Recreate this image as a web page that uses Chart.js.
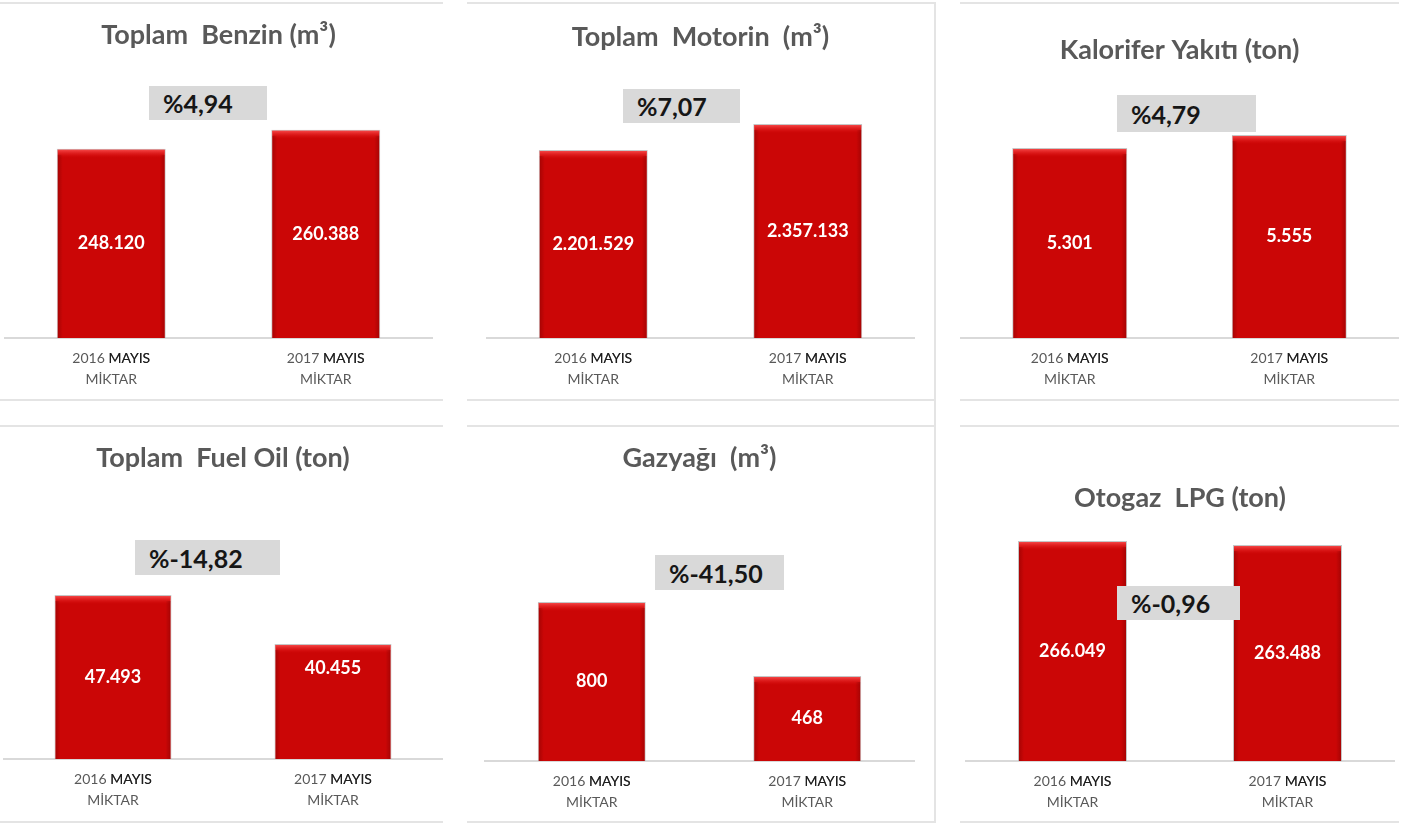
<!DOCTYPE html>
<html lang="tr">
<head>
<meta charset="utf-8">
<title>Mayıs 2016 - 2017 Akaryakıt Satışları</title>
<script src="https://cdn.jsdelivr.net/npm/chart.js@4.4.1/dist/chart.umd.min.js"></script>
<style>
  html, body { margin: 0; padding: 0; background: #fff; }
  #page { position: relative; width: 1419px; height: 829px; overflow: hidden; font-family: Lato, "Open Sans", sans-serif; }
  .panel { position: absolute; }
  .rule { position: absolute; background: #e4e4e4; }
  .change {
    position: absolute; background: #d9d9d9; color: #161616;
    font: bold 25px Lato, sans-serif; box-sizing: border-box; padding-left: 14px;
    display: flex; align-items: center;
  }
</style>
</head>
<body>
<div id="page"></div>
<script>
// data
const categories = [['2016 MAYIS', 'MİKTAR'], ['2017 MAYIS', 'MİKTAR']];
const titles = ['Toplam  Benzin (m³)', 'Toplam  Motorin  (m³)', 'Kalorifer Yakıtı (ton)',
                'Toplam  Fuel Oil (ton)', 'Gazyağı  (m³)', 'Otogaz  LPG (ton)'];
const benzin = [248120, 260388];
const motorin = [2201529, 2357133];
const kalorifer = [5301, 5555];
const fuelOil = [47493, 40455];
const gazyagi = [800, 468];
const otogaz = [266049, 263488];
const changes = ['%4,94', '%7,07', '%4,79', '%-14,82', '%-41,50', '%-0,96'];

const series = [benzin, motorin, kalorifer, fuelOil, gazyagi, otogaz];

// layout of each panel (page pixels) and axis ranges
const panels = [
  { left: 4,   width: 429, top: 5,   base: 338, titleY: 35,  areaTop: 118, yMin: 126000,  yMax: 268000,  bar: 0.508,
    box: [149, 86, 118, 34] },
  { left: 486, width: 429, top: 5,   base: 338, titleY: 37,  areaTop: 118, yMin: 1077000, yMax: 2393000, bar: 0.508,
    box: [623, 89, 117, 34] },
  { left: 960, width: 439, top: 5,   base: 338, titleY: 50,  areaTop: 118, yMin: 1589,    yMax: 5887,    bar: 0.524,
    box: [1117, 95, 139, 37] },
  { left: 3,   width: 440, top: 428, base: 759, titleY: 458, areaTop: 540, yMin: 23942,   yMax: 55390,   bar: 0.532,
    box: [135, 540, 145, 35], labelAt: ['center', 'top'] },
  { left: 484, width: 431, top: 428, base: 761, titleY: 458, areaTop: 540, yMin: 86.8,    yMax: 1078.1,  bar: 0.501,
    box: [655, 555, 129, 35] },
  { left: 965, width: 430, top: 428, base: 761, titleY: 498, areaTop: 540, yMin: 125194,  yMax: 266686,  bar: 0.507,
    box: [1117, 586, 123, 34] }
];

const page = document.getElementById('page');

// thin grey frame lines between the panels
const rules = [
  [0, 2, 443, 2], [467, 2, 468, 2], [960, 2, 439, 2],
  [0, 399, 443, 2], [467, 399, 468, 2], [960, 399, 439, 2],
  [0, 425, 443, 2], [467, 425, 468, 2], [960, 425, 439, 2],
  [0, 821, 443, 2], [467, 821, 468, 2], [960, 821, 439, 2],
  [934, 2, 2, 821]
];
rules.forEach(r => {
  const d = document.createElement('div');
  d.className = 'rule';
  d.style.left = r[0] + 'px'; d.style.top = r[1] + 'px';
  d.style.width = r[2] + 'px'; d.style.height = r[3] + 'px';
  page.appendChild(d);
});

function fmt(v) {
  return String(v).replace(/\B(?=(\d{3})+(?!\d))/g, '.');
}

const tickFont = { family: 'Lato', size: 14, lineHeight: 1.5 };
const tickPad = 10;

// bevel on the bars: lighter top edge, darker sides
const bevel = {
  id: 'bevel',
  afterDatasetsDraw(chart) {
    const ctx = chart.ctx;
    chart.getDatasetMeta(0).data.forEach(bar => {
      const l = bar.x - bar.width / 2, r = bar.x + bar.width / 2;
      const t = bar.y, b = bar.base;
      ctx.save();
      let g = ctx.createLinearGradient(0, t, 0, t + 9);
      g.addColorStop(0, 'rgba(255,90,90,0.95)');
      g.addColorStop(1, 'rgba(230,20,20,0)');
      ctx.fillStyle = g;
      ctx.fillRect(l + 1, t + 1, r - l - 2, 9);
      g = ctx.createLinearGradient(l, 0, l + 6, 0);
      g.addColorStop(0, 'rgba(110,0,0,0.45)');
      g.addColorStop(1, 'rgba(110,0,0,0)');
      ctx.fillStyle = g;
      ctx.fillRect(l + 1, t + 6, 6, b - t - 6);
      g = ctx.createLinearGradient(r, 0, r - 6, 0);
      g.addColorStop(0, 'rgba(110,0,0,0.45)');
      g.addColorStop(1, 'rgba(110,0,0,0)');
      ctx.fillStyle = g;
      ctx.fillRect(r - 7, t + 6, 6, b - t - 6);
      ctx.restore();
    });
  }
};

// white value labels inside the bars
const valueLabels = {
  id: 'valueLabels',
  afterDatasetsDraw(chart, args, opts) {
    const ctx = chart.ctx;
    const ds = chart.data.datasets[0];
    ctx.save();
    ctx.fillStyle = '#ffffff';
    ctx.font = 'bold 18px Lato, sans-serif';
    ctx.textAlign = 'center';
    ctx.textBaseline = 'middle';
    chart.getDatasetMeta(0).data.forEach((bar, i) => {
      const where = (opts.at || [])[i] || 'center';
      const y = where === 'top' ? bar.y + 24 : (bar.y + bar.base) / 2;
      ctx.fillText(fmt(ds.data[i]), bar.x, y);
    });
    ctx.restore();
  }
};

// the month word in the category labels is darker than the year
const darkMonth = {
  id: 'darkMonth',
  afterDraw(chart) {
    const ctx = chart.ctx;
    const xs = chart.scales.x;
    ctx.save();
    ctx.font = tickFont.size + 'px ' + tickFont.family;
    ctx.fillStyle = '#1e1e1e';
    ctx.textAlign = 'left';
    ctx.textBaseline = 'middle';
    const y = xs.top + tickPad + tickFont.size * tickFont.lineHeight / 2;
    chart.data.labels.forEach((lab, i) => {
      const line = lab[0];
      const cut = line.indexOf(' ') + 1;
      const x0 = xs.getPixelForTick(i) - ctx.measureText(line).width / 2;
      ctx.fillText(line.slice(cut), x0 + ctx.measureText(line.slice(0, cut)).width, y);
    });
    ctx.restore();
  }
};

panels.forEach((p, k) => {
  const axisH = 52;
  const lh = 27 * 1.2;
  const h = p.base - p.top + axisH;
  const padTop = p.titleY - p.top - lh / 2;
  const padBottom = p.areaTop - p.top - padTop - lh;

  const wrap = document.createElement('div');
  wrap.className = 'panel';
  wrap.style.left = p.left + 'px';
  wrap.style.top = p.top + 'px';
  wrap.style.width = p.width + 'px';
  wrap.style.height = h + 'px';
  const canvas = document.createElement('canvas');
  wrap.appendChild(canvas);
  page.appendChild(wrap);

  new Chart(canvas, {
    type: 'bar',
    data: {
      labels: categories,
      datasets: [{
        data: series[k],
        base: p.yMin,
        backgroundColor: '#cb0606',
        borderColor: 'rgba(160,160,160,0.6)',
        borderWidth: 1,
        borderSkipped: 'bottom',
        categoryPercentage: 1,
        barPercentage: p.bar
      }]
    },
    options: {
      responsive: true,
      maintainAspectRatio: false,
      animation: false,
      layout: { padding: 0 },
      plugins: {
        legend: { display: false },
        tooltip: { enabled: false },
        title: {
          display: true,
          text: titles[k],
          color: '#595959',
          font: { family: 'Lato', size: 27, weight: 'bold', lineHeight: 1.2 },
          padding: { top: padTop, bottom: padBottom }
        },
        valueLabels: { at: p.labelAt }
      },
      scales: {
        x: {
          grid: { display: false, drawTicks: false },
          border: { display: true, color: '#d9d9d9', width: 2 },
          ticks: {
            color: '#595959',
            padding: tickPad,
            font: tickFont
          },
          afterFit(axis) { axis.height = axisH; }
        },
        y: { display: false, min: p.yMin, max: p.yMax }
      }
    },
    plugins: [bevel, valueLabels, darkMonth]
  });

  const box = document.createElement('div');
  box.className = 'change';
  box.style.left = p.box[0] + 'px';
  box.style.top = p.box[1] + 'px';
  box.style.width = p.box[2] + 'px';
  box.style.height = p.box[3] + 'px';
  box.textContent = changes[k];
  page.appendChild(box);
});
</script>
</body>
</html>
